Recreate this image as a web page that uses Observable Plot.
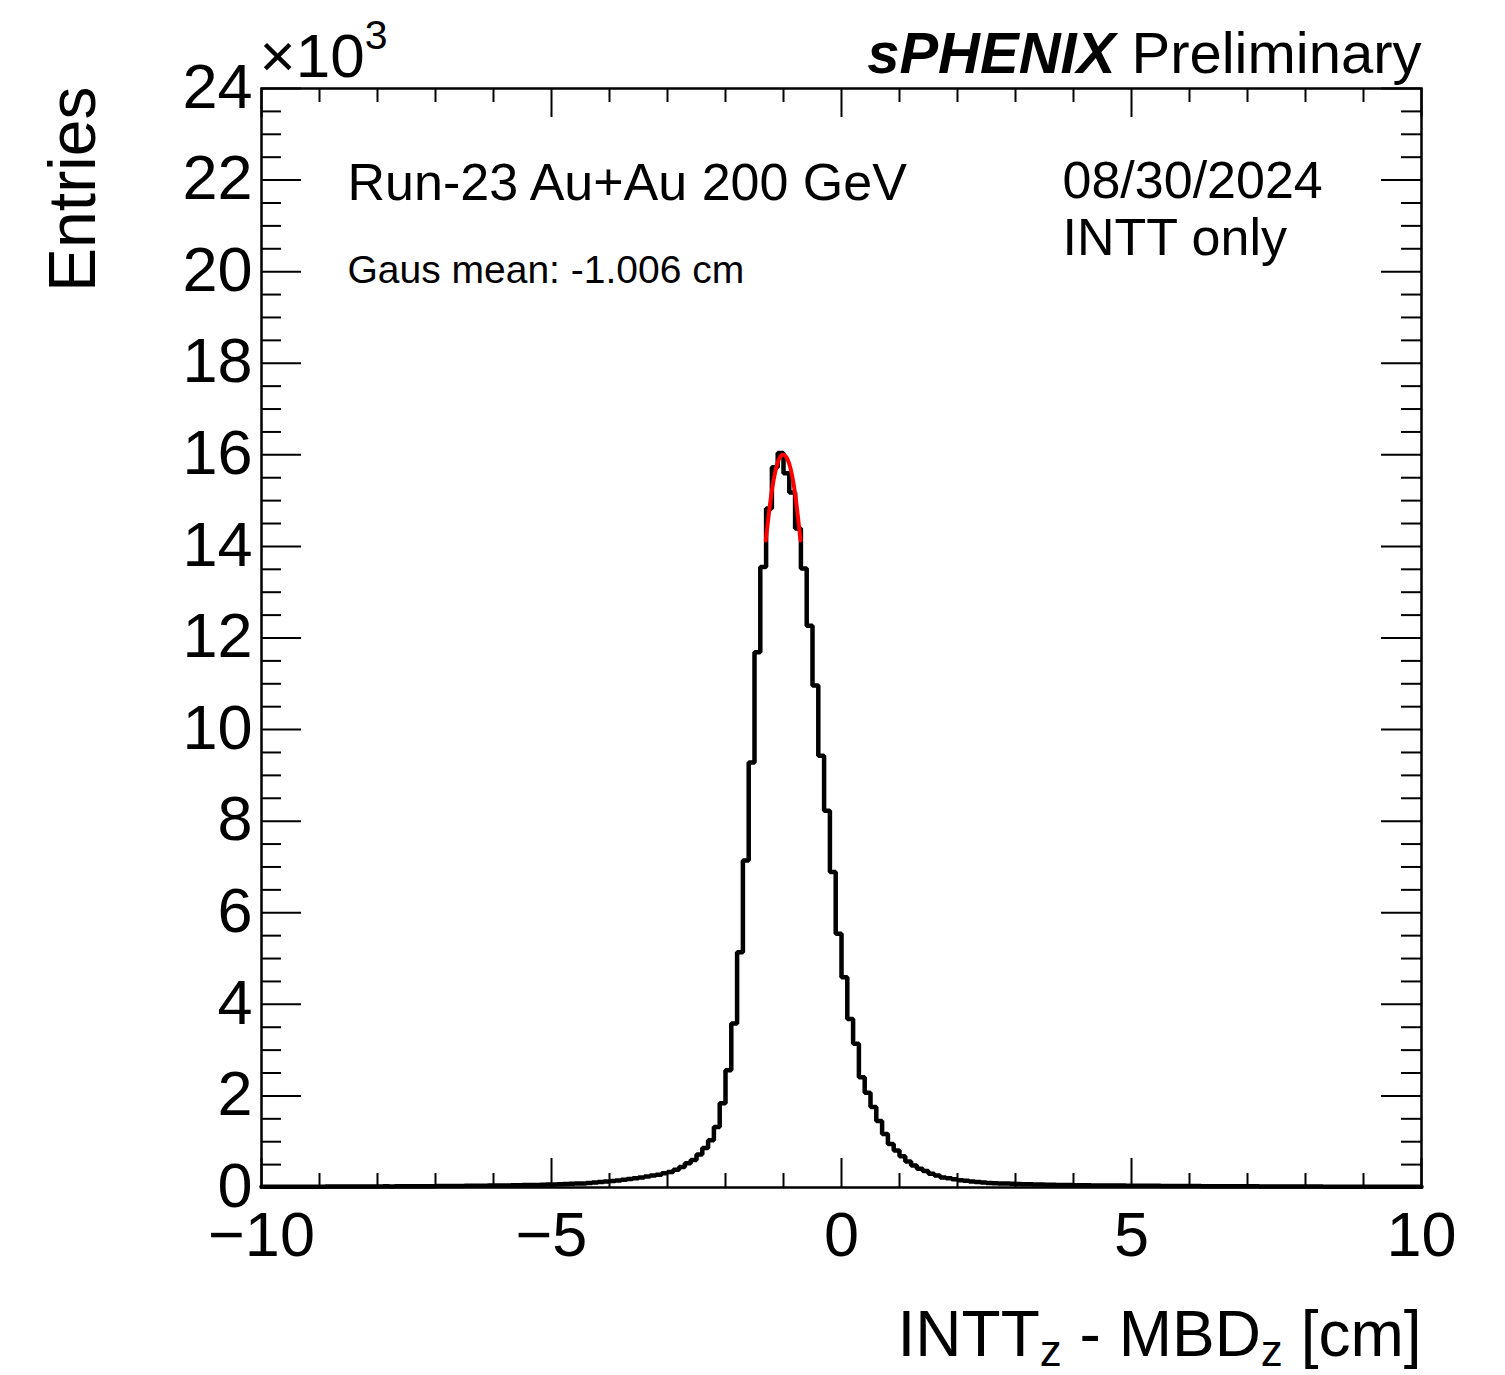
<!DOCTYPE html>
<html>
<head>
<meta charset="utf-8">
<script src="https://cdn.jsdelivr.net/npm/d3@7"></script>
<script src="https://cdn.jsdelivr.net/npm/@observablehq/plot@0.6"></script>
<style>
  html, body { margin: 0; padding: 0; background: #fff; }
  #chart svg { display: block; }
</style>
</head>
<body>
<div id="chart"></div>
<script>
// ---------- data (entries per 0.1 cm bin, in units of 10^3) ----------
const binLow = -10;          // lower edge of first bin [cm]
const binWidth = 0.1;        // bin width [cm]
const binValues = [
  0.015,0.016,0.015,0.017,0.016,0.017,0.018,0.017,0.018,0.019,   // -10.0 .. -9.1
  0.019,0.020,0.020,0.021,0.020,0.022,0.021,0.022,0.023,0.023,   // -9.0 .. -8.1
  0.024,0.025,0.024,0.026,0.027,0.026,0.028,0.028,0.029,0.030,   // -8.0 .. -7.1
  0.031,0.032,0.033,0.033,0.035,0.036,0.037,0.038,0.040,0.041,   // -7.0 .. -6.1
  0.043,0.045,0.046,0.048,0.050,0.052,0.055,0.057,0.060,0.063,   // -6.0 .. -5.1
  0.066,0.070,0.075,0.080,0.085,0.090,0.100,0.110,0.120,0.130,   // -5.0 .. -4.1
  0.140,0.155,0.170,0.185,0.200,0.220,0.240,0.260,0.280,0.310,   // -4.0 .. -3.1
  0.340,0.390,0.450,0.530,0.600,0.720,0.860,1.030,1.320,1.840,   // -3.0 .. -2.1
  2.560,3.580,5.140,7.140,9.280,11.690,13.550,14.830,15.730,16.040, // -2.0 .. -1.1
  15.600,15.180,14.390,13.520,12.270,10.960,9.430,8.230,6.890,5.540, // -1.0 .. -0.1
  4.590,3.680,3.140,2.410,2.070,1.760,1.450,1.170,0.950,0.810,   //  0.0 .. 0.9
  0.680,0.570,0.480,0.410,0.360,0.300,0.260,0.220,0.200,0.180,   //  1.0 .. 1.9
  0.160,0.150,0.130,0.120,0.110,0.100,0.095,0.090,0.085,0.080,   //  2.0 .. 2.9
  0.075,0.072,0.069,0.066,0.063,0.060,0.058,0.056,0.054,0.052,   //  3.0 .. 3.9
  0.050,0.049,0.047,0.046,0.045,0.044,0.043,0.042,0.041,0.040,   //  4.0 .. 4.9
  0.039,0.038,0.037,0.037,0.036,0.035,0.034,0.034,0.033,0.032,   //  5.0 .. 5.9
  0.031,0.031,0.030,0.030,0.029,0.028,0.028,0.027,0.027,0.026,   //  6.0 .. 6.9
  0.025,0.025,0.024,0.024,0.023,0.023,0.022,0.022,0.021,0.021,   //  7.0 .. 7.9
  0.020,0.020,0.020,0.019,0.019,0.018,0.018,0.018,0.017,0.017,   //  8.0 .. 8.9
  0.017,0.016,0.016,0.016,0.015,0.015,0.015,0.014,0.014,0.014    //  9.0 .. 9.9
];

// Gaussian fit curve
const fitX = [-1.306, -1.2, -1.1, -1.006, -0.9, -0.8, -0.706];
const fitY = [14.13, 15.22, 15.83, 16.0, 15.80, 15.15, 14.13];

// axis ticks and labels
const xMajorTicks = [-10, -5, 0, 5, 10];
const xTickLabels = ["\u221210", "\u22125", "0", "5", "10"];
const xMinorTicks = [-9,-8,-7,-6,-4,-3,-2,-1,1,2,3,4,6,7,8,9];
const yMajorTicks = [0,2,4,6,8,10,12,14,16,18,20,22,24];
const yTickLabels = ["0","2","4","6","8","10","12","14","16","18","20","22","24"];
const yMinorTicks = d3.range(0, 24.001, 0.5).filter(v => v % 2 !== 0);

// texts
const yTitle = "Entries";
const xTitleParts = ["INTT", "z", " - MBD", "z", " [cm]"];
const brandBold = "sPHENIX";
const brandRest = " Preliminary";
const runLabel = "Run-23 Au+Au 200 GeV";
const fitLabel = "Gaus mean: -1.006 cm";
const dateLabel = "08/30/2024";
const detLabel = "INTT only";

// ---------- layout ----------
const W = 1505, H = 1375;
const mL = 261, mR = 84, mT = 88, mB = 188;
const innerW = W - mL - mR, innerH = H - mT - mB;
const font = "'Liberation Sans', Arial, Helvetica, sans-serif";

const histo = binValues.map((v, i) => ({x: binLow + i * binWidth, y: v}));
histo.push({x: binLow + binValues.length * binWidth, y: binValues[binValues.length - 1]});
const fit = fitX.map((x, i) => ({x, y: fitY[i]}));

const tickW = 2;
const plot = Plot.plot({
  width: W, height: H,
  marginLeft: mL, marginRight: mR, marginTop: mT, marginBottom: mB,
  x: {domain: [-10, 10], axis: null},
  y: {domain: [0, 24], axis: null},
  style: {fontFamily: font, background: "#fff", color: "#000"},
  marks: [
    // histogram
    Plot.line(histo, {x: "x", y: "y", curve: "step-after", stroke: "#000", strokeWidth: 4.5, strokeLinejoin: "miter"}),
    // fit
    Plot.line(fit, {x: "x", y: "y", curve: "natural", stroke: "#ff0000", strokeWidth: 4}),
    // ticks: y left/right
    Plot.tickY(yMajorTicks, {y: d => d, insetRight: innerW - 40, stroke: "#000", strokeWidth: tickW}),
    Plot.tickY(yMinorTicks, {y: d => d, insetRight: innerW - 20, stroke: "#000", strokeWidth: tickW}),
    Plot.tickY(yMajorTicks, {y: d => d, insetLeft: innerW - 40, stroke: "#000", strokeWidth: tickW}),
    Plot.tickY(yMinorTicks, {y: d => d, insetLeft: innerW - 20, stroke: "#000", strokeWidth: tickW}),
    // ticks: x bottom/top
    Plot.tickX(xMajorTicks, {x: d => d, insetTop: innerH - 29, stroke: "#000", strokeWidth: tickW}),
    Plot.tickX(xMinorTicks, {x: d => d, insetTop: innerH - 14, stroke: "#000", strokeWidth: tickW}),
    Plot.tickX(xMajorTicks, {x: d => d, insetBottom: innerH - 29, stroke: "#000", strokeWidth: tickW}),
    Plot.tickX(xMinorTicks, {x: d => d, insetBottom: innerH - 14, stroke: "#000", strokeWidth: tickW}),
    Plot.frame({stroke: "#000", strokeWidth: 2.5}),
    // tick labels
    Plot.text(yMajorTicks, {y: d => d, text: (d, i) => yTickLabels[i], frameAnchor: "left", textAnchor: "end", lineAnchor: "middle", dx: -9, dy: -1, fontSize: 63, fill: "#000"}),
    Plot.text(xMajorTicks, {x: d => d, text: (d, i) => xTickLabels[i], frameAnchor: "bottom", textAnchor: "middle", lineAnchor: "bottom", dy: 68, fontSize: 63, fill: "#000"}),
    // exponent
    Plot.text(["\u00d710"], {text: d => d, frameAnchor: "top-left", textAnchor: "start", lineAnchor: "bottom", dx: -2, dy: -12, fontSize: 62, fill: "#000"}),
    // axis titles
    Plot.text([yTitle], {text: d => d, frameAnchor: "top-left", textAnchor: "end", lineAnchor: "bottom", rotate: -90, dx: -167, dy: -2, fontSize: 66, fill: "#000"}),
    Plot.text(["XTITLE"], {text: d => d, frameAnchor: "bottom-right", textAnchor: "end", lineAnchor: "bottom", dy: 168, fontSize: 64, fill: "#000"}),
    // brand
    Plot.text(["BRAND"], {text: d => d, frameAnchor: "top-right", textAnchor: "end", lineAnchor: "bottom", dy: -16, fontSize: 58, fill: "#000"}),
    // labels in frame
    Plot.text([runLabel], {text: d => d, frameAnchor: "top-left", textAnchor: "start", lineAnchor: "bottom", dx: 86, dy: 111, fontSize: 52, fill: "#000"}),
    Plot.text([fitLabel], {text: d => d, frameAnchor: "top-left", textAnchor: "start", lineAnchor: "bottom", dx: 86, dy: 194, fontSize: 39, fill: "#000"}),
    Plot.text([dateLabel], {text: d => d, frameAnchor: "top-left", textAnchor: "start", lineAnchor: "bottom", dx: 801, dy: 109, fontSize: 52, fill: "#000"}),
    Plot.text([detLabel], {text: d => d, frameAnchor: "top-left", textAnchor: "start", lineAnchor: "bottom", dx: 801, dy: 166, fontSize: 52, fill: "#000"})
  ]
});

// rich text: superscript / subscript / bold italic
d3.select(plot).selectAll("text").each(function() {
  const t = d3.select(this);
  const s = this.textContent;
  if (s === "\u00d710") {
    t.append("tspan").attr("dy", -28).attr("font-size", 41).text("3");
  } else if (s === "XTITLE") {
    t.text(null);
    t.append("tspan").text(xTitleParts[0]);
    t.append("tspan").attr("dy", 10).attr("font-size", 44).text(xTitleParts[1]);
    t.append("tspan").attr("dy", -10).text(xTitleParts[2]);
    t.append("tspan").attr("dy", 10).attr("font-size", 44).text(xTitleParts[3]);
    t.append("tspan").attr("dy", -10).text(xTitleParts[4]);
  } else if (s === "BRAND") {
    t.text(null);
    t.append("tspan").attr("font-weight", "bold").attr("font-style", "italic").text(brandBold);
    t.append("tspan").text(brandRest);
  }
});

document.getElementById("chart").appendChild(plot);
</script>
</body>
</html>
